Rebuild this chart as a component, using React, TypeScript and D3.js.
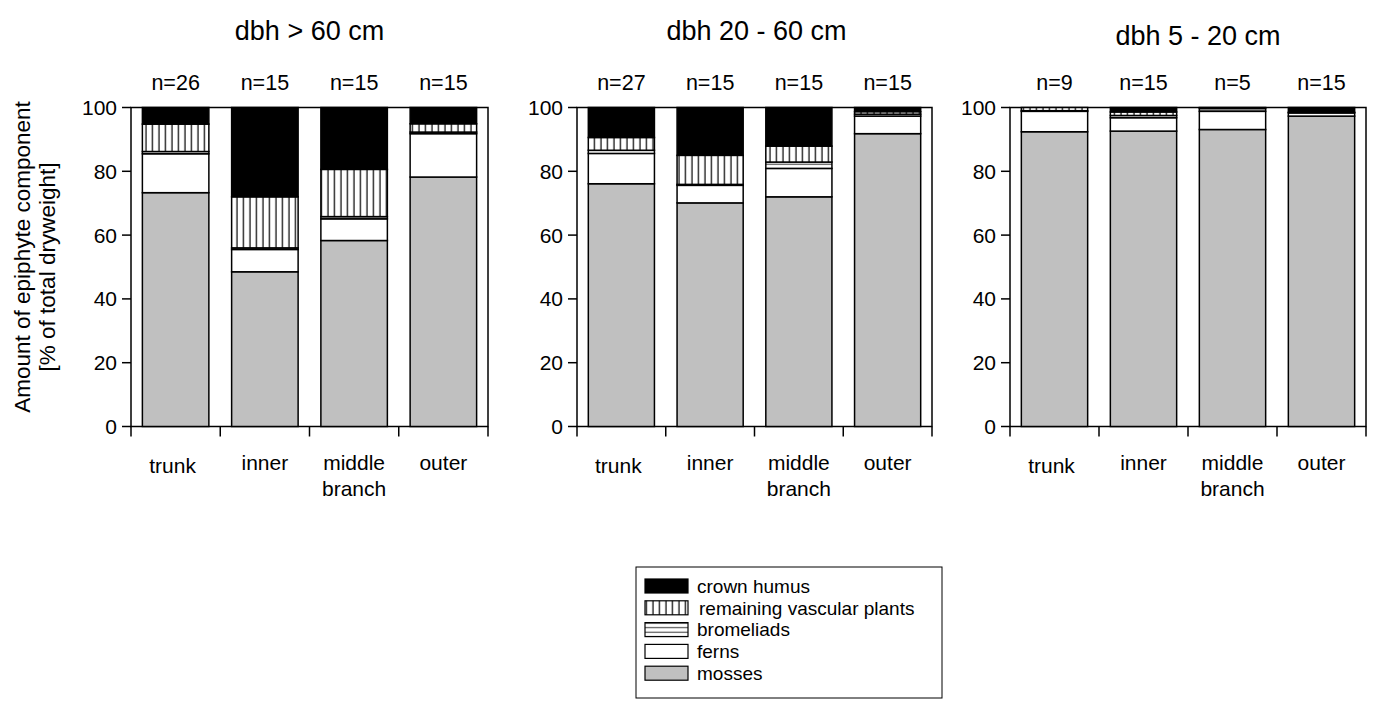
import React from 'react';
import * as d3 from 'd3';

// categories / panels
const categories = ['trunk', 'inner', 'middle', 'outer'];
const categoryLines = [['trunk'], ['inner'], ['middle', 'branch'], ['outer']];
const panelTitles = ['dbh > 60 cm', 'dbh 20 - 60 cm', 'dbh 5 - 20 cm'];
const sampleSizes = [
  [26, 15, 15, 15],
  [27, 15, 15, 15],
  [9, 15, 5, 15],
];

// % of total dryweight, one row per panel, one value per category
const mosses = [
  [73.3, 48.5, 58.3, 78.2],
  [76.1, 70.1, 72.0, 91.8],
  [92.4, 92.6, 93.1, 97.3],
];
const ferns = [
  [12.2, 7.0, 6.8, 13.6],
  [9.5, 5.5, 8.9, 5.5],
  [6.4, 4.2, 5.7, 1.0],
];
const bromeliads = [
  [0.7, 0.5, 0.7, 0.5],
  [1.0, 0.3, 2.0, 0.6],
  [0.2, 0.7, 0.9, 0.2],
];
const vascular = [
  [8.6, 16.0, 14.8, 2.6],
  [4.0, 9.1, 5.0, 0.8],
  [1.0, 1.1, 0.3, 0.0],
];
const humus = [
  [5.2, 28.0, 19.4, 5.1],
  [9.4, 15.0, 12.1, 1.3],
  [0.0, 1.4, 0.0, 1.5],
];

const yTicks = [0, 20, 40, 60, 80, 100];
const keys = ['mosses', 'ferns', 'bromeliads', 'vascular', 'humus'];
const legendItems = [
  { key: 'humus', label: 'crown humus' },
  { key: 'vascular', label: 'remaining vascular plants' },
  { key: 'bromeliads', label: 'bromeliads' },
  { key: 'ferns', label: 'ferns' },
  { key: 'mosses', label: 'mosses' },
];

const fills: Record<string, string> = {
  mosses: '#c0c0c0',
  ferns: '#ffffff',
  bromeliads: 'url(#bromPattern)',
  vascular: 'url(#vascPattern)',
  humus: '#000000',
};

const FONT = '"Liberation Sans", Arial, sans-serif';
const panelX = [
  [131, 488],
  [577, 932],
  [1010, 1366],
];
const yTop = 107.5;
const yBottom = 426.5;

function Panel({ index }: { index: number }) {
  const [x0, x1] = panelX[index];
  const x = d3.scaleBand().domain(categories).range([x0, x1]).paddingInner(0).paddingOuter(0);
  const y = d3.scaleLinear().domain([0, 100]).range([yBottom, yTop]);
  const barW = x.bandwidth() * 0.745;
  const off = (x.bandwidth() - barW) / 2;

  const rows = categories.map((c, i) => ({
    category: c,
    mosses: mosses[index][i],
    ferns: ferns[index][i],
    bromeliads: bromeliads[index][i],
    vascular: vascular[index][i],
    humus: humus[index][i],
  }));
  const series = d3.stack<any>().keys(keys)(rows);
  const boundaries = [x0, ...categories.map(c => (x(c) as number) + x.bandwidth())];

  return (
    <g>
      <text
        x={(x0 + x1) / 2 + (index === 2 ? 10 : index === 1 ? 2 : 0)}
        y={index === 2 ? 45 : 40}
        textAnchor="middle"
        fontSize={27}
        fontFamily={FONT}
      >
        {panelTitles[index]}
      </text>

      {/* frame */}
      <rect x={x0} y={yTop} width={x1 - x0} height={yBottom - yTop} fill="white" stroke="black" strokeWidth={1.5} />

      {series.map(s => (
        <g key={s.key}>
          {s.map((d, i) => {
            const h = y(d[0]) - y(d[1]);
            if (h <= 0) return null;
            return (
              <rect
                key={i}
                x={(x(categories[i]) as number) + off}
                y={y(d[1])}
                width={barW}
                height={h}
                fill={fills[s.key]}
                stroke="black"
                strokeWidth={1.5}
              />
            );
          })}
        </g>
      ))}

      {/* y axis */}
      {yTicks.map(t => (
        <g key={t}>
          <line x1={x0 - 9} x2={x0} y1={y(t)} y2={y(t)} stroke="black" strokeWidth={1.5} />
          <text x={x0 - 14} y={y(t)} dy="0.36em" textAnchor="end" fontSize={21} fontFamily={FONT}>
            {t}
          </text>
        </g>
      ))}

      {/* x ticks at band boundaries */}
      {boundaries.map((b, i) => (
        <line key={i} x1={b} x2={b} y1={yBottom} y2={yBottom + 10} stroke="black" strokeWidth={1.5} />
      ))}

      {categories.map((c, i) => (
        <g key={c}>
          <text
            x={(x(c) as number) + x.bandwidth() / 2}
            y={yTop - 18}
            textAnchor="middle"
            fontSize={21.5}
            fontFamily={FONT}
          >
            {`n=${sampleSizes[index][i]}`}
          </text>
          {categoryLines[i].map((line, j) => (
            <text
              key={line}
              x={(x(c) as number) + x.bandwidth() / 2 + (i === 0 ? -3 : 0)}
              y={(i === 0 ? 473 : 470) + j * 26}
              textAnchor="middle"
              fontSize={21}
              fontFamily={FONT}
            >
              {line}
            </text>
          ))}
        </g>
      ))}
    </g>
  );
}

export default function App() {
  const legendX = 636;
  const legendY = 567;
  const rowStep = 21.8;

  return (
    <svg
      width={1375}
      height={708}
      style={{ position: 'absolute', left: 0, top: 0, background: 'white' }}
    >
      <defs>
        <pattern id="vascPattern" width={6.5} height={10} patternUnits="userSpaceOnUse">
          <rect width={6.5} height={10} fill="white" />
          <line x1={3} x2={3} y1={0} y2={10} stroke="#222" strokeWidth={1.4} />
        </pattern>
        <pattern id="bromPattern" width={10} height={4.5} patternUnits="userSpaceOnUse">
          <rect width={10} height={4.5} fill="white" />
          <line x1={0} x2={10} y1={2.2} y2={2.2} stroke="#444" strokeWidth={1.1} />
        </pattern>
      </defs>

      {/* y axis title */}
      <g transform="translate(30,257) rotate(-90)">
        <text textAnchor="middle" fontSize={22.5} fontFamily={FONT}>
          Amount of epiphyte component
        </text>
      </g>
      <g transform="translate(55,267) rotate(-90)">
        <text textAnchor="middle" fontSize={22.5} fontFamily={FONT}>
          [% of total dryweight]
        </text>
      </g>

      {panelTitles.map((_, i) => (
        <Panel key={i} index={i} />
      ))}

      {/* legend */}
      <rect x={legendX} y={legendY} width={306} height={131} fill="white" stroke="black" strokeWidth={1} />
      {legendItems.map((item, i) => {
        const cy = legendY + 19 + i * rowStep;
        return (
          <g key={item.key}>
            <rect x={645} y={cy - 7} width={43} height={14} fill={fills[item.key]} stroke="black" strokeWidth={1.2} />
            <text x={item.key === 'vascular' ? 699 : 697} y={cy} dy="0.36em" fontSize={19} fontFamily={FONT}>
              {item.label}
            </text>
          </g>
        );
      })}
    </svg>
  );
}
